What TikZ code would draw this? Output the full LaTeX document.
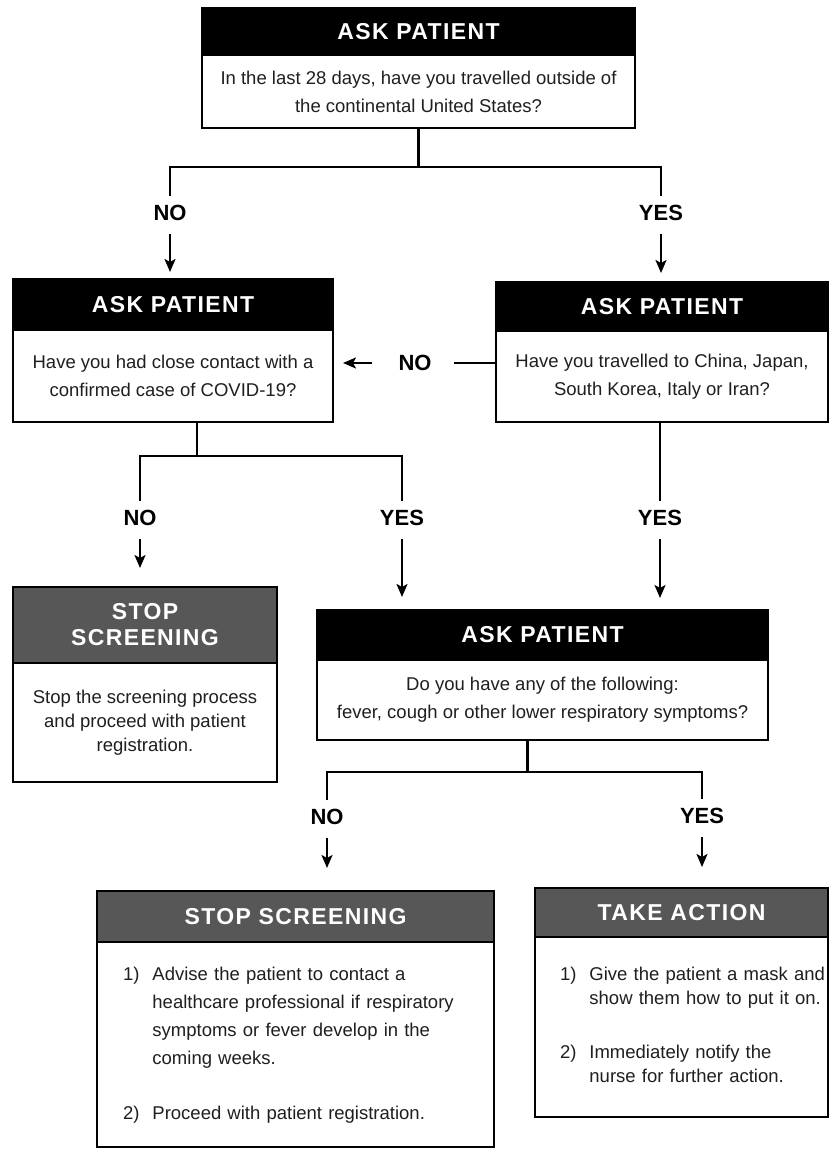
\documentclass[tikz,border=0pt]{standalone}
\usepackage{fontspec}
\setmainfont{Liberation Sans}
\newfontfamily\headfont[LetterSpace=6]{Liberation Sans}
\usetikzlibrary{arrows.meta,positioning}
\tikzset{
  head/.style={draw=black, line width=2.4pt, fill=black, text=white, outer sep=0pt,
    inner sep=0pt, align=center, font=\headfont\bfseries\fontsize{23}{26}\selectfont},
  greyhead/.style={head, fill=black!66},
  body/.style={draw=black, line width=2.4pt, fill=white, text=black!88, outer sep=0pt,
    inner sep=0pt, align=center, font=\fontsize{18.5}{28}\selectfont, below=0pt of #1},
  list/.style={align=left, inner xsep=0pt},
  lbl/.style={font=\bfseries\fontsize{22}{22}\selectfont, inner xsep=2pt, inner ysep=9pt},
  line/.style={line width=2.2pt},
  arr/.style={line, shorten <=4pt, -{Stealth[length=13pt, width=11pt, inset=3pt]}}
}
\begin{document}
\begin{tikzpicture}[x=1pt, y=-1pt]
\useasboundingbox (0,0) rectangle (830,1150);

% Ask patient boxes
\node[head, minimum width=433pt, minimum height=47pt] (q1h) at (418.5,31.5) {ASK PATIENT};
\node[body=q1h, minimum width=433pt, minimum height=73pt] (q1)
  {In the last 28 days, have you travelled outside of\\the continental United States?};

\node[head, minimum width=320pt, minimum height=51pt] (q2h) at (173,304.5) {ASK PATIENT};
\node[body=q2h, minimum width=320pt, minimum height=92pt] (q2)
  {Have you had close contact with a\\confirmed case of COVID-19?};

\node[head, minimum width=332pt, minimum height=49pt] (q3h) at (662,306.5) {ASK PATIENT};
\node[body=q3h, minimum width=332pt, minimum height=91pt] (q3)
  {Have you travelled to China, Japan,\\South Korea, Italy or Iran?};

\node[head, minimum width=451pt, minimum height=50pt] (q4h) at (542.5,635) {ASK PATIENT};
\node[body=q4h, minimum width=451pt, minimum height=80pt] (q4)
  {Do you have any of the following:\\fever, cough or other lower respiratory symptoms?};

% Outcome boxes
\node[greyhead, minimum width=264pt, minimum height=76pt] (s1h) at (145,625) {STOP\\SCREENING};
\node[body=s1h, minimum width=264pt, minimum height=119pt, font=\fontsize{18.5}{24}\selectfont] (s1)
  {Stop the screening process\\and proceed with patient\\registration.};

\node[greyhead, minimum width=397pt, minimum height=51pt] (s2h) at (295.5,916.5) {STOP SCREENING};
\node[body=s2h, list, minimum width=397pt, minimum height=205pt, text width=397pt] (s2) {%
  \begin{tabular}{@{\hspace{26pt}}l@{\hspace{13pt}}l@{}}
  1) & Advise the patient to contact a\\
     & healthcare professional if respiratory\\
     & symptoms or fever develop in the\\
     & coming weeks.\\[27pt]
  2) & Proceed with patient registration.
  \end{tabular}};

\node[greyhead, minimum width=293pt, minimum height=49pt] (acth) at (681.5,912.5) {TAKE ACTION};
\node[body=acth, list, minimum width=293pt, minimum height=180pt, text width=293pt,
  font=\fontsize{18.5}{24}\selectfont] (act) {%
  \begin{tabular}{@{\hspace{25pt}}l@{\hspace{13pt}}l@{}}
  1) & Give the patient a mask and\\
     & show them how to put it on.\\[30pt]
  2) & Immediately notify the\\
     & nurse for further action.
  \end{tabular}};

% Yes / no labels
\foreach \name/\word/\x/\y in {no1/NO/170/213, yes1/YES/661/213, no3/NO/140/518,
    yes3/YES/402/518, yes4/YES/660/518, no5/NO/327/817, yes5/YES/702/816}
  \node[lbl] (\name) at (\x,\y) {\word};
\node[lbl, inner xsep=22pt] (no2) at (415,363) {NO};

% Junctions
\coordinate (j1) at (0,167);
\coordinate (j2) at (0,456);
\coordinate (j3) at (0,772);

% Connectors
\draw[line] (q1.south) -- (q1.south |- j1);
\draw[line] (no1.north) -- (no1.north |- j1) -- (yes1.north |- j1) -- (yes1.north);
\draw[arr, shorten >=7pt] (no1.south) -- (no1.south |- q2h.north);
\draw[arr, shorten >=9pt] (yes1.south) -- (yes1.south |- q3h.north);

\draw[line] (q3.west |- no2) -- (no2.east);
\draw[arr, shorten >=10pt] (no2.west) -- (q2.east |- no2);

\draw[line] ([xshift=24pt]q2.south) -- ([xshift=24pt]q2.south |- j2);
\draw[line] (no3.north) -- (no3.north |- j2) -- (yes3.north |- j2) -- (yes3.north);
\draw[arr, shorten >=19pt] (no3.south) -- (no3.south |- s1h.north);
\draw[arr, shorten >=13pt] (yes3.south) -- (yes3.south |- q4h.north);

\draw[line] (yes4.north |- q3.south) -- (yes4.north);
\draw[arr, shorten >=12pt] (yes4.south) -- (yes4.south |- q4h.north);

\draw[line] ([xshift=-15pt]q4.south) -- ([xshift=-15pt]q4.south |- j3);
\draw[line] (no5.north) -- (no5.north |- j3) -- (yes5.north |- j3) -- (yes5.north);
\draw[arr, shorten >=23pt] (no5.south) -- (no5.south |- s2h.north);
\draw[arr, shorten >=21pt] (yes5.south) -- (yes5.south |- acth.north);
\end{tikzpicture}
\end{document}
